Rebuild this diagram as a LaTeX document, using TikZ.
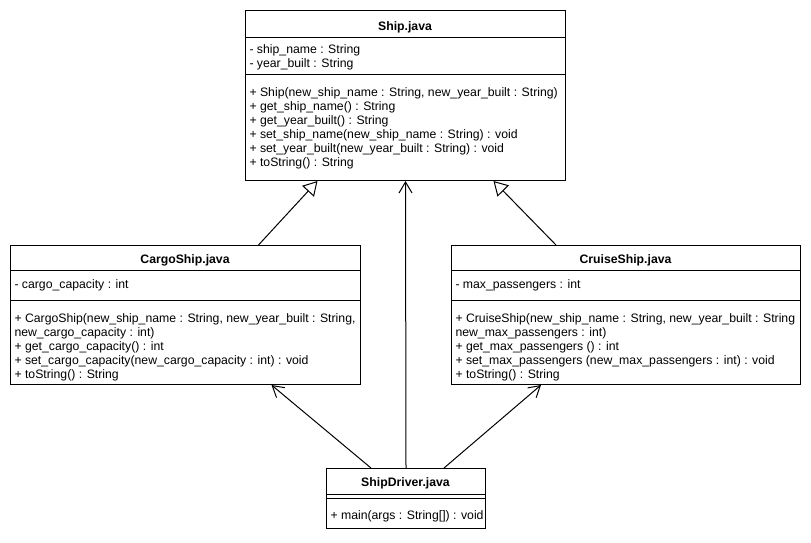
\documentclass[tikz,border=0pt]{standalone}
\usepackage{fontspec}
\setmainfont{Liberation Sans}
\usetikzlibrary{arrows.meta}

\begin{document}
\begin{tikzpicture}[x=1pt,y=-1pt,line width=1pt,
    box/.style={draw,anchor=north west,inner sep=0pt},
    txt/.style={anchor=base west,inner sep=0pt,font=\fontsize{12.25}{14}\selectfont},
    ttl/.style={anchor=base,inner sep=0pt,font=\fontsize{12.25}{14}\selectfont\bfseries},
    inh/.style={-{Triangle[open,length=14pt,width=16pt]}},
    use/.style={-{Straight Barb[length=11pt,width=13pt]}}]
\useasboundingbox (0,0) rectangle (811,542);

\node[box,minimum width=320pt,minimum height=170pt] (ship) at (245,10) {};
\draw (245,37) -- (565,37);
\draw (245,74) -- (565,74);
    \node[ttl] (ship-t) at (405,30) {Ship.java};
    \node[txt] (ship-a1) at (249,53) {- ship\_name : String};
    \node[txt] (ship-a2) at (249,67) {- year\_built : String};

    \node[txt] (ship-m1) at (249,96) {+ Ship(new\_ship\_name : String, new\_year\_built : String)};
    \node[txt] (ship-m2) at (249,110) {+ get\_ship\_name() : String};
    \node[txt] (ship-m3) at (249,124) {+ get\_year\_built() : String};
    \node[txt] (ship-m4) at (249,138) {+ set\_ship\_name(new\_ship\_name : String) : void};
    \node[txt] (ship-m5) at (249,152) {+ set\_year\_built(new\_year\_built : String) : void};
    \node[txt] (ship-m6) at (249,166) {+ toString() : String};

\node[box,minimum width=350pt,minimum height=139pt] (cargo) at (10,245) {};
\draw (10,270) -- (360,270);
\draw (10,300) -- (360,300);
    \node[ttl] (cargo-t) at (185,263) {CargoShip.java};
    \node[txt] (cargo-a1) at (14,288) {- cargo\_capacity : int};

    \node[txt] (cargo-m1) at (14,322) {+ CargoShip(new\_ship\_name : String, new\_year\_built : String,};
    \node[txt] (cargo-m1b) at (14,336) {new\_cargo\_capacity : int)};
    \node[txt] (cargo-m2) at (14,350) {+ get\_cargo\_capacity() : int};
    \node[txt] (cargo-m3) at (14,364) {+ set\_cargo\_capacity(new\_cargo\_capacity : int) : void};
    \node[txt] (cargo-m4) at (14,378) {+ toString() : String};

\node[box,minimum width=349pt,minimum height=139pt] (cruise) at (451,245) {};
\draw (451,270) -- (800,270);
\draw (451,300) -- (800,300);
    \node[ttl] (cruise-t) at (625.5,263) {CruiseShip.java};
    \node[txt] (cruise-a1) at (455,288) {- max\_passengers : int};

    \node[txt] (cruise-m1) at (455,322) {+ CruiseShip(new\_ship\_name : String, new\_year\_built : String};
    \node[txt] (cruise-m1b) at (455,336) {new\_max\_passengers : int)};
    \node[txt] (cruise-m2) at (455,350) {+ get\_max\_passengers () : int};
    \node[txt] (cruise-m3) at (455,364) {+ set\_max\_passengers (new\_max\_passengers : int) : void};
    \node[txt] (cruise-m4) at (455,378) {+ toString() : String};

\node[box,minimum width=159pt,minimum height=60pt] (drv) at (326,468) {};
\draw (326,494) -- (485,494);
\draw (326,498) -- (485,498);
    \node[ttl] (drv-t) at (405.5,486) {ShipDriver.java};
    \node[txt] (drv-m1) at (330,519) {+ main(args : String[]) : void};

     \draw[inh] ([xshift=73pt]cargo.north) -- ([xshift=-88pt]ship.south);
     \draw[inh] ([xshift=-70pt]cruise.north) -- ([xshift=88pt]ship.south);
     \draw[use] (drv.north) -- (ship.south);
     \draw[use] ([xshift=-35pt]drv.north) -- ([xshift=86pt]cargo.south);
     \draw[use] ([xshift=38pt]drv.north) -- ([xshift=-85pt]cruise.south);
\end{tikzpicture}
\end{document}
